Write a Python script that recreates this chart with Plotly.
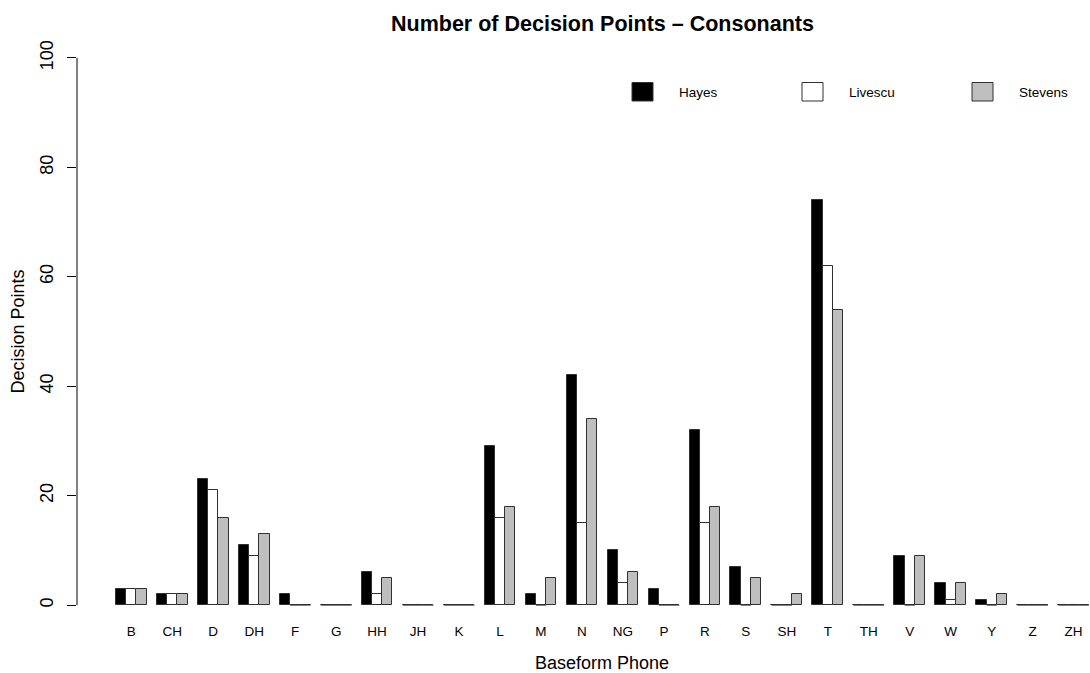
import plotly.graph_objects as go

# Data: decision points per baseform consonant for each feature system
categories = ["B", "CH", "D", "DH", "F", "G", "HH", "JH", "K", "L", "M", "N",
              "NG", "P", "R", "S", "SH", "T", "TH", "V", "W", "Y", "Z", "ZH"]
hayes = [3, 2, 23, 11, 2, 0, 6, 0, 0, 29, 2, 42, 10, 3, 32, 7, 0, 74, 0, 9, 4, 1, 0, 0]
livescu = [3, 2, 21, 9, 0, 0, 2, 0, 0, 16, 0, 15, 4, 0, 15, 0, 0, 62, 0, 0, 1, 0, 0, 0]
stevens = [3, 2, 16, 13, 0, 0, 5, 0, 0, 18, 5, 34, 6, 0, 18, 5, 2, 54, 0, 9, 4, 2, 0, 0]
series_names = ["Hayes", "Livescu", "Stevens"]
y_ticks = [0, 20, 40, 60, 80, 100]

series_values = [hayes, livescu, stevens]
fill_colors = ["black", "white", "#BEBEBE"]
edge_color = "#303030"
FONT = "Liberation Sans, Arial, Helvetica, sans-serif"

# Figure / plot-area geometry in pixels
W, H = 1090, 673
PL, PR, PT, PB = 77, 1090, 36, 627
X_RANGE = [-2.8, 96.1]
Y_RANGE = [-4, 104]


def px_x(p):
    return (p - PL) / (PR - PL)


def px_y(p):
    return (PB - p) / (PB - PT)


# Grouped layout: 3 bars of width 1 per group, one unit gap between groups
n_series = len(series_values)
group_w = n_series + 1

fig = go.Figure()
zero_x, zero_y = [], []
for j, (name, vals, col) in enumerate(zip(series_names, series_values, fill_colors)):
    centers = [1 + group_w * i + j + 0.5 for i in range(len(categories))]
    fig.add_trace(go.Bar(
        x=centers, y=vals, width=1, name=name,
        marker=dict(color=col, line=dict(color=edge_color, width=1)),
        showlegend=False, hoverinfo="x+y",
    ))
    # zero-height bars are drawn as a flat outline on the baseline
    for c, v in zip(centers, vals):
        if v == 0:
            zero_x += [c - 0.5, c + 0.5, None]
            zero_y += [0, 0, None]

fig.add_trace(go.Scatter(x=zero_x, y=zero_y, mode="lines",
                         line=dict(color=edge_color, width=1),
                         showlegend=False, hoverinfo="skip"))

group_centers = [1 + group_w * i + n_series / 2 for i in range(len(categories))]

shapes = [
    # y axis line spanning the labelled range only
    dict(type="line", xref="paper", yref="y", x0=0, x1=0,
         y0=y_ticks[0], y1=y_ticks[-1], line=dict(color="black", width=1)),
]
annotations = [
    dict(text="<b>Number of Decision Points \u2013 Consonants</b>",
         xref="paper", yref="paper", x=px_x(602), y=px_y(24),
         xanchor="center", yanchor="middle", showarrow=False,
         font=dict(size=21.5, color="black", family=FONT)),
    dict(text="Baseform Phone", xref="paper", yref="paper",
         x=px_x(602), y=px_y(663), xanchor="center", yanchor="middle",
         showarrow=False, font=dict(size=18, color="black", family=FONT)),
    dict(text="Decision Points", xref="paper", yref="paper",
         x=px_x(17), y=px_y(331.5), xanchor="center", yanchor="middle",
         textangle=-90, showarrow=False,
         font=dict(size=18, color="black", family=FONT)),
]

# Legend: filled boxes with labels in a single row
legend_box_left = [632, 802, 972]
for name, col, bx in zip(series_names, fill_colors, legend_box_left):
    shapes.append(dict(type="rect", xref="paper", yref="paper",
                       x0=px_x(bx), x1=px_x(bx + 21),
                       y0=px_y(101), y1=px_y(82.5),
                       fillcolor=col, line=dict(color=edge_color, width=1)))
    annotations.append(dict(text=name, xref="paper", yref="paper",
                            x=px_x(bx + 45), y=px_y(92.5),
                            xanchor="left", yanchor="middle", showarrow=False,
                            font=dict(size=13.5, color="black", family=FONT)))

fig.update_layout(
    width=W, height=H,
    margin=dict(l=PL, r=W - PR, t=PT, b=H - PB, pad=0),
    paper_bgcolor="white", plot_bgcolor="white",
    barmode="overlay", bargap=0,
    font=dict(family=FONT, color="black"),
    shapes=shapes, annotations=annotations,
    xaxis=dict(range=X_RANGE, tickmode="array", tickvals=group_centers,
               ticktext=categories, ticks="", showgrid=False, zeroline=False,
               showline=False, tickfont=dict(size=13.5, family=FONT),
               ticklabelstandoff=-6, fixedrange=True),
    yaxis=dict(range=Y_RANGE, tickmode="array", tickvals=y_ticks,
               ticks="outside", ticklen=9, tickcolor="black", tickwidth=1,
               tickangle=-90, showgrid=False, zeroline=False, showline=False,
               tickfont=dict(size=18, family=FONT), ticklabelstandoff=7,
               fixedrange=True),
)

fig.write_html("out.html")
